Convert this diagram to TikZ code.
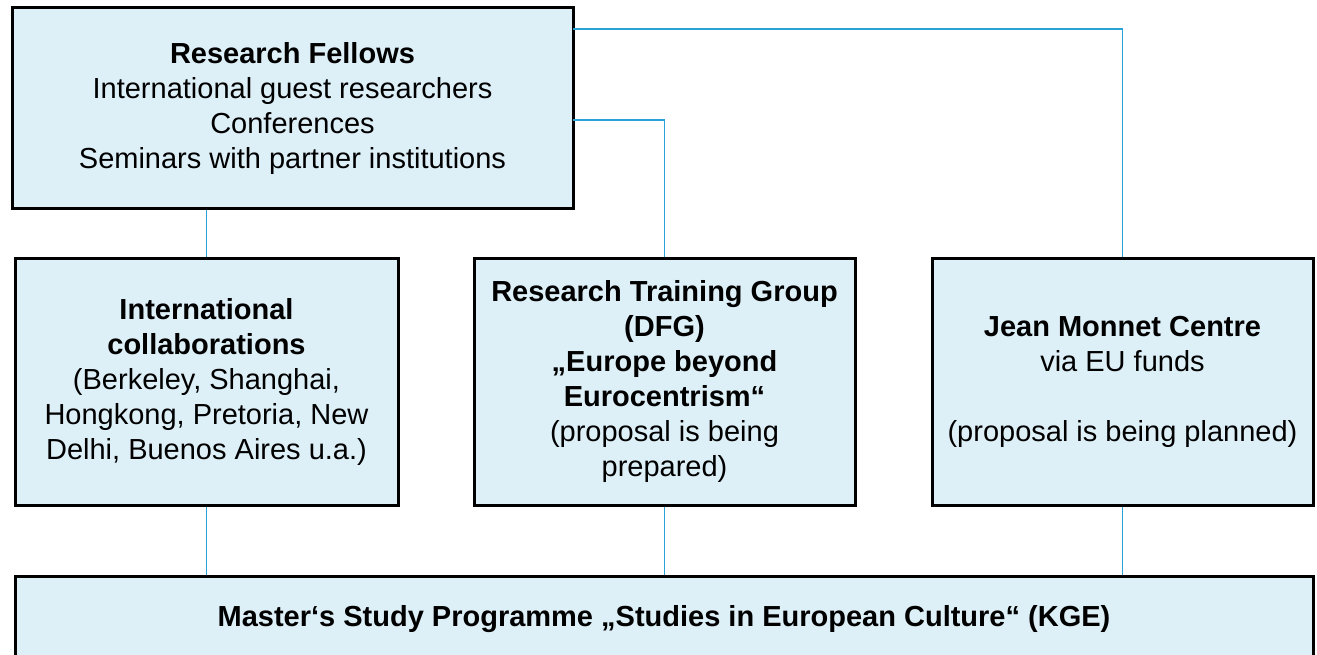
\documentclass[tikz,border=0pt]{standalone}
\usepackage{fontspec}
\setmainfont{Liberation Sans}
\definecolor{boxfill}{RGB}{221,239,247}
\definecolor{linkblue}{RGB}{41,163,214}
\begin{document}
\begin{tikzpicture}[x=1pt,y=-1pt,
  box/.style={draw=black,line width=3pt,fill=boxfill,align=center,inner sep=0pt,
    font=\fontsize{29}{35}\selectfont},
  link/.style={draw=linkblue,line width=1.8pt}]
\useasboundingbox (0,0) rectangle (1317,655);
\clip (0,0) rectangle (1317,655);
\node[box,minimum width=561pt,minimum height=201pt] (top) at (292.5,108.5)
  {\textbf{Research Fellows}\\International guest researchers\\Conferences\\Seminars with partner institutions};
\node[box,minimum width=383pt,minimum height=247pt] (coll) at (206.5,381.5)
  {\textbf{International}\\\textbf{collaborations}\\(Berkeley, Shanghai,\\Hongkong, Pretoria, New\\Delhi, Buenos Aires u.a.)};
\node[box,minimum width=381pt,minimum height=247pt] (rtg) at (664.5,381.5)
  {\textbf{Research Training Group}\\\textbf{(DFG)}\\\textbf{„Europe beyond}\\\textbf{Eurocentrism“}\\(proposal is being\\prepared)};
\node[box,minimum width=381pt,minimum height=247pt] (jmc) at (1122.5,381.5)
  {\textbf{Jean Monnet Centre}\\via EU funds\\[35pt](proposal is being planned)};
\node[box,minimum width=1298pt,minimum height=86pt,anchor=north] (master) at (664,575)
  {\textbf{Master‘s Study Programme „Studies in European Culture“ (KGE)}};
\coordinate (t1) at (573,29);
\coordinate (t2) at (573,120);
\draw[link] (top.south -| coll.north) -- (coll.north);
\draw[link] (t1) -| (jmc.north);
\draw[link] (t2) -| (rtg.north);
\draw[link] (coll.south) -- (coll.south |- master.north);
\draw[link] (rtg.south) -- (rtg.south |- master.north);
\draw[link] (jmc.south) -- (jmc.south |- master.north);
\end{tikzpicture}
\end{document}
